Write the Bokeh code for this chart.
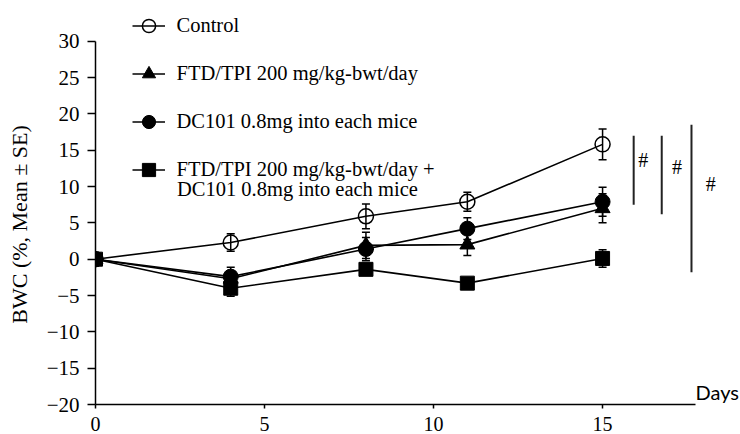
from bokeh.plotting import figure
from bokeh.models import (Legend, LegendItem, Whisker, ColumnDataSource, Label,
                          FixedTicker, TeeHead)
from bokeh.embed import file_html
from bokeh.resources import INLINE

# ---- data ----
days = [0, 4, 8, 11, 15]
control = [0, 2.3, 5.9, 7.9, 15.8]
control_se = [0, 1.2, 1.7, 1.3, 2.1]
ftd = [0, -2.7, 1.9, 2.0, 7.0]
ftd_se = [0, 1.0, 1.8, 1.5, 2.0]
dc101 = [0, -2.4, 1.4, 4.2, 7.9]
dc101_se = [0, 1.3, 1.6, 1.5, 2.0]
combo = [0, -4.0, -1.4, -3.3, 0.1]
combo_se = [0, 1.1, 0.5, 0.4, 1.2]

series_names = ["Control", "FTD/TPI 200 mg/kg-bwt/day",
                "DC101 0.8mg into each mice", "FTD/TPI 200 mg/kg-bwt/day +"]
combo_name_line2 = "DC101 0.8mg into each mice"

x_ticks = [0, 5, 10, 15]
y_ticks = [-20, -15, -10, -5, 0, 5, 10, 15, 20, 25, 30]
y_tick_labels = ["\u221220", "\u221215", "\u221210", "\u22125", "0", "5", "10", "15", "20", "25", "30"]
x_axis_end = 17.75
y_axis_top = 30

sig_x = [15.92, 16.75, 17.63]
sig_y0 = [7.5, 6.2, -1.8]
sig_y1 = [17.0, 17.0, 18.5]
sig_label_x = [16.2, 17.2, 18.2]
sig_label_y = [13.7, 12.75, 10.4]
sig_text = ["#", "#", "#"]

SERIF = "Liberation Serif"

# frame spans to the top and right canvas edges so texts there are not clipped
p = figure(width=740, height=434, x_range=(0, 19.08), y_range=(-20, 35.6),
           output_backend="svg", toolbar_location=None,
           min_border_left=95, min_border_right=0, min_border_top=0, min_border_bottom=30)
p.outline_line_color = None
p.grid.visible = False
p.background_fill_color = "white"

# axes
p.xaxis.ticker = FixedTicker(ticks=x_ticks)
p.yaxis.ticker = FixedTicker(ticks=y_ticks)
p.xaxis.bounds = (0, x_axis_end)
p.yaxis.bounds = (-20, y_axis_top)
p.yaxis.major_label_overrides = {t: l for t, l in zip(y_ticks, y_tick_labels)}
for ax in (p.xaxis, p.yaxis):
    ax.axis_line_color = "black"
    ax.axis_line_width = 1.5
    ax.major_tick_line_color = "black"
    ax.major_tick_line_width = 1.5
    ax.major_tick_in = 0
    ax.minor_tick_line_color = None
    ax.major_label_text_font = SERIF
    ax.major_label_text_color = "black"
p.xaxis.major_tick_out = 4
p.xaxis.major_label_text_font_size = "20px"
p.xaxis.major_label_standoff = 8
p.yaxis.major_tick_out = 8
p.yaxis.major_label_text_font_size = "21px"
p.yaxis.major_label_standoff = 8
# trailing no-break spaces shift the centred label toward the lower part of the axis
p.yaxis.axis_label = "BWC (%, Mean \u00b1 SE)" + "\u00a0" * 8
p.yaxis.axis_label_text_font = SERIF
p.yaxis.axis_label_text_font_style = "normal"
p.yaxis.axis_label_text_font_size = "22px"
p.yaxis.axis_label_text_color = "black"
p.yaxis.axis_label_standoff = 12

all_y = [control, ftd, dc101, combo]
all_se = [control_se, ftd_se, dc101_se, combo_se]
markers = ["circle", "triangle", "circle", "square"]
sizes = [15, 15, 15, 14]
fills = [None, "black", "black", "black"]

line_rs, mark_rs = [], []
for ys in all_y:
    line_rs.append(p.line(days, ys, line_color="black", line_width=1.6))

for ys, se in zip(all_y, all_se):
    src = ColumnDataSource(dict(x=days, upper=[v + e for v, e in zip(ys, se)],
                                lower=[v - e for v, e in zip(ys, se)]))
    w = Whisker(source=src, base="x", upper="upper", lower="lower",
                line_color="black", line_width=1.5,
                upper_head=TeeHead(size=8, line_color="black", line_width=1.5),
                lower_head=TeeHead(size=8, line_color="black", line_width=1.5))
    p.add_layout(w)

for ys, mk, sz, fc in zip(all_y, markers, sizes, fills):
    if fc is None:
        r = p.scatter(days, ys, marker=mk, size=sz, line_color="black",
                      line_width=1.5, fill_alpha=0)
    else:
        r = p.scatter(days, ys, marker=mk, size=sz, line_color="black",
                      line_width=1, fill_color=fc)
    mark_rs.append(r)

# significance bars
p.segment(x0=sig_x, y0=sig_y0, x1=sig_x, y1=sig_y1, line_color="#222222", line_width=2)
for lx, ly, t in zip(sig_label_x, sig_label_y, sig_text):
    p.add_layout(Label(x=lx, y=ly, text=t, text_align="center", text_baseline="middle",
                       text_font=SERIF, text_font_size="20px", text_color="black"))

# Days label
p.add_layout(Label(x=x_axis_end, y=-20, text="Days", text_align="left", text_baseline="bottom",
                   y_offset=1, text_font="Lato", text_font_size="20px", text_color="black"))

# legend
items = [LegendItem(label=n, renderers=[lr, mr])
         for n, lr, mr in zip(series_names, line_rs, mark_rs)]
legend = Legend(items=items, location=(36.5, 218.5), orientation="vertical",
                glyph_width=33, glyph_height=33, label_height=33, spacing=15,
                padding=0, margin=0, border_line_color=None, background_fill_alpha=0,
                label_standoff=12, label_text_font=SERIF, label_text_font_size="20.5px",
                label_text_color="black")
p.add_layout(legend)
p.add_layout(Label(x=81.5, y=216, x_units="screen", y_units="screen", text=combo_name_line2,
                   text_baseline="middle", text_align="left", text_font=SERIF,
                   text_font_size="20.5px", text_color="black"))

open("out.html", "w").write(file_html(p, INLINE))
